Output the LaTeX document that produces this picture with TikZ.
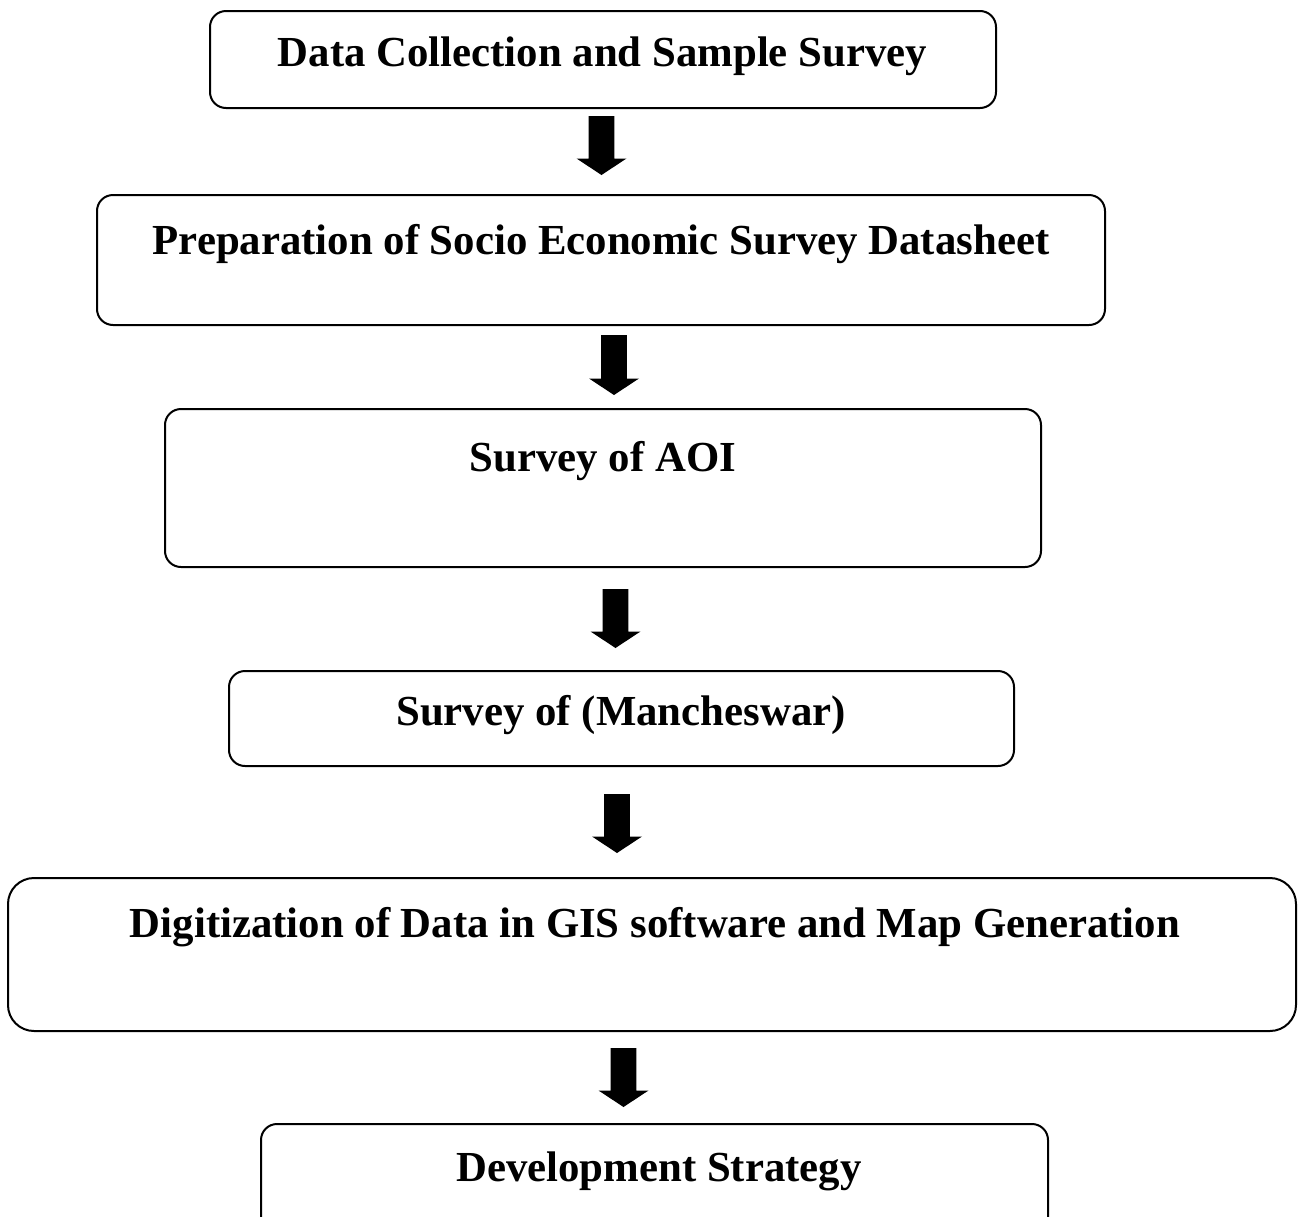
\documentclass[tikz,border=0pt]{standalone}
\usepackage{fontspec}
\setmainfont{Liberation Serif}
\begin{document}
\begin{tikzpicture}[x=1pt,y=-1pt,
  stage/.style={draw=black,line width=2pt,rounded corners=16pt},
  label/.style={font=\fontsize{42.8}{46}\bfseries\selectfont,inner sep=0pt,anchor=base},
  blockarrow/.style={fill=black,draw=none}]
\useasboundingbox (0,0) rectangle (1304,1216);
\clip (0,0) rectangle (1304,1216);
% stage boxes
\draw[stage] (210,11) rectangle (996,108);
\draw[stage] (97,195) rectangle (1105,325);
\draw[stage] (165,409) rectangle (1041,567);
\draw[stage] (229,671) rectangle (1014,766);
\draw[stage,rounded corners=26pt] (8,878) rectangle (1296,1031);
\draw[stage] (261,1124) rectangle (1048,1240);
% stage labels
\node[label] (t1) at (602.5,66) {Data Collection and Sample Survey};
\node[label] (t2) at (601,254) {Preparation of Socio Economic Survey Datasheet};
\node[label] (t3) at (603,471) {Survey of AOI};
\node[label] (t4) at (621,725) {Survey of (Mancheswar)};
\node[label] (t5) at (655,937) {Digitization of Data in GIS software and Map Generation};
\node[label] (t6) at (659,1181) {Development Strategy};
% downward block arrows between stages: {centre x}{top y}{tip y}
\newcommand{\downarrowat}[3]{%
  \fill[blockarrow] (#1-12.8,#2) -- (#1+12.8,#2) -- (#1+12.8,#3-16.5) -- (#1+25,#3-16.5)
    -- (#1,#3) -- (#1-25,#3-16.5) -- (#1-12.8,#3-16.5) -- cycle;}
\downarrowat{601.5}{116}{175}
\downarrowat{614}{335}{395}
\downarrowat{615.5}{589}{648}
\downarrowat{617}{794}{853}
\downarrowat{623.5}{1048}{1107}
\end{tikzpicture}
\end{document}
